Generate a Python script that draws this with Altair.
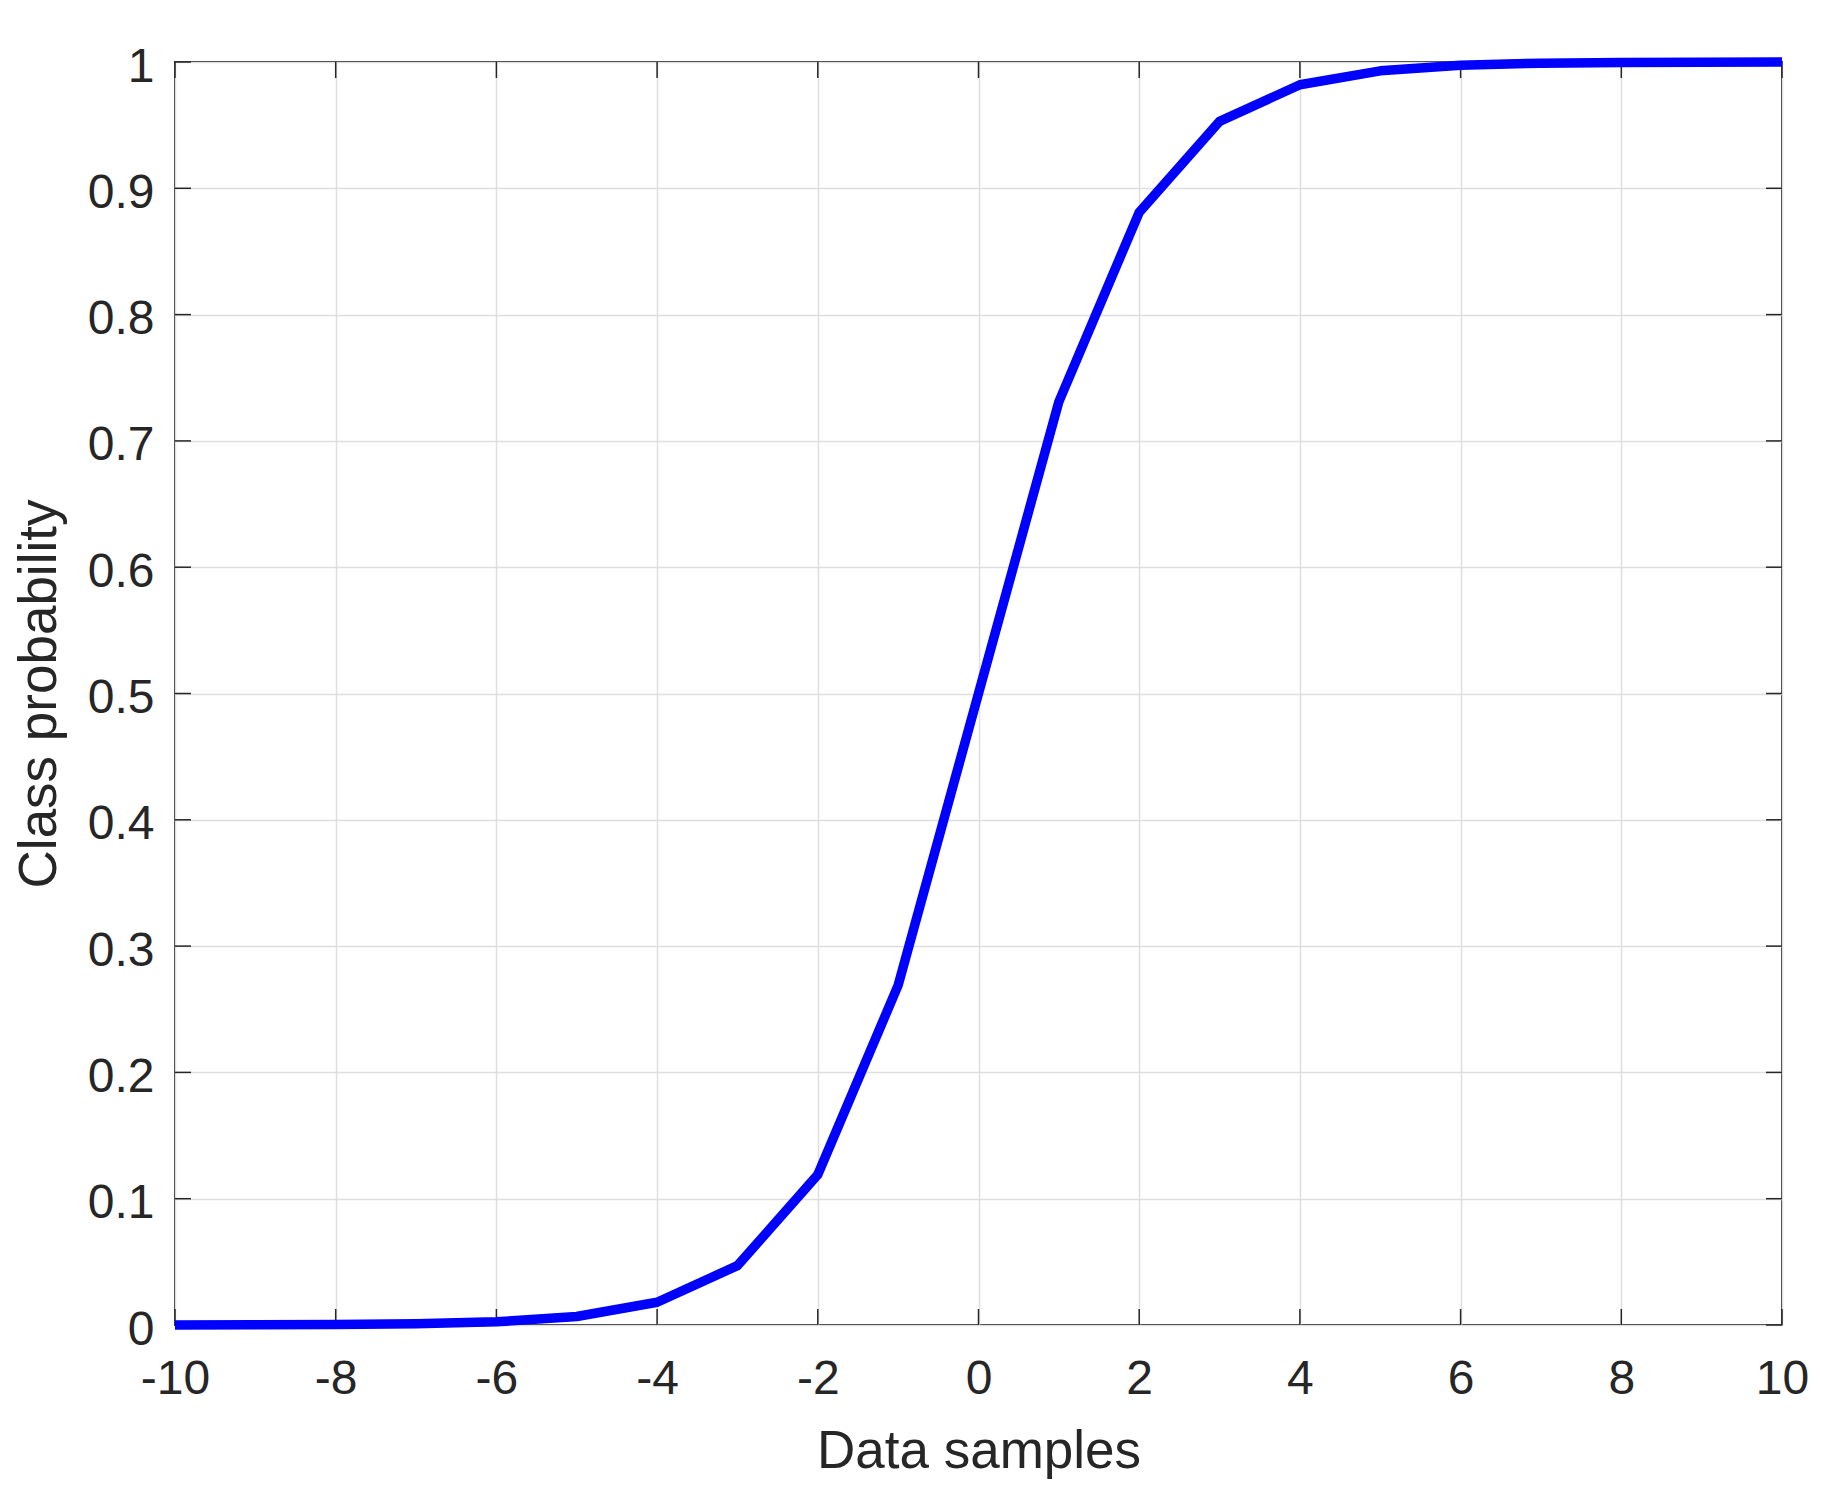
import altair as alt
import pandas as pd

samples = [-10, -9, -8, -7, -6, -5, -4, -3, -2, -1, 0, 1, 2, 3, 4, 5, 6, 7, 8, 9, 10]
probability = [0.00005, 0.00012, 0.00034, 0.0009, 0.0025, 0.0067, 0.018, 0.047,
               0.119, 0.269, 0.5, 0.731, 0.881, 0.953, 0.982, 0.993, 0.9975,
               0.9991, 0.9997, 0.9999, 0.99995]
x_ticks = [-10, -8, -6, -4, -2, 0, 2, 4, 6, 8, 10]
y_ticks = [0, 0.1, 0.2, 0.3, 0.4, 0.5, 0.6, 0.7, 0.8, 0.9, 1]

FONT = "Liberation Sans"
DARK = "#262626"
W, H = 1607, 1263

df = pd.DataFrame({"x": samples, "p": probability})
xt = pd.DataFrame({"xv": x_ticks, "ylo": [0] * len(x_ticks), "yhi": [1] * len(x_ticks)})
yt = pd.DataFrame({"yv": y_ticks, "xlo": [-10] * len(y_ticks), "xhi": [10] * len(y_ticks)})

xscale = alt.Scale(domain=[-10, 10], nice=False, zero=False)
yscale = alt.Scale(domain=[0, 1], nice=False, zero=False)

xaxis = alt.Axis(values=x_ticks, title="Data samples",
                 labelExpr="'' + datum.value",
                 labelFlush=False, labelPadding=30,
                 titleX=W / 2, titleY=142, titleBaseline="alphabetic",
                 titleAlign="center")
yaxis = alt.Axis(values=y_ticks, title="Class probability", format=".1~f",
                 labelFlush=False, labelPadding=21, labelOffset=5,
                 titleX=-120, titleY=H / 2, titleBaseline="alphabetic",
                 titleAlign="center", titleAngle=270)

line = alt.Chart(df).mark_line(color="#0000ff", strokeWidth=9.5, strokeJoin="round").encode(
    x=alt.X("x:Q", scale=xscale, axis=xaxis),
    y=alt.Y("p:Q", scale=yscale, axis=yaxis),
)

TL = 16
bottom_ticks = alt.Chart(xt).mark_tick(orient="vertical", size=TL, thickness=1.5,
                                       color=DARK, yOffset=-TL / 2, opacity=1).encode(
    x=alt.X("xv:Q", scale=xscale, axis=xaxis), y=alt.Y("ylo:Q", scale=yscale, axis=yaxis))
top_ticks = alt.Chart(xt).mark_tick(orient="vertical", size=TL, thickness=1.5,
                                    color=DARK, yOffset=TL / 2, opacity=1).encode(
    x=alt.X("xv:Q", scale=xscale, axis=xaxis), y=alt.Y("yhi:Q", scale=yscale, axis=yaxis))
left_ticks = alt.Chart(yt).mark_tick(orient="horizontal", size=TL, thickness=1.5,
                                     color=DARK, xOffset=TL / 2, opacity=1).encode(
    y=alt.Y("yv:Q", scale=yscale, axis=yaxis), x=alt.X("xlo:Q", scale=xscale, axis=xaxis))
right_ticks = alt.Chart(yt).mark_tick(orient="horizontal", size=TL, thickness=1.5,
                                      color=DARK, xOffset=-TL / 2, opacity=1).encode(
    y=alt.Y("yv:Q", scale=yscale, axis=yaxis), x=alt.X("xhi:Q", scale=xscale, axis=xaxis))

chart = alt.layer(bottom_ticks, top_ticks, left_ticks, right_ticks, line).properties(
    width=W, height=H,
    background="white",
    autosize=alt.AutoSizeParams(type="none"),
    padding={"left": 167, "top": 54, "right": 30, "bottom": 160},
).configure_view(
    stroke=DARK, strokeWidth=2
).configure_axis(
    domain=False, ticks=False,
    grid=True, gridColor="#dedede", gridWidth=1.5,
    labelFont=FONT, labelFontSize=48, labelColor=DARK,
    titleFont=FONT, titleFontSize=53, titleColor=DARK, titleFontWeight="normal",
)

chart.save("out.html", embed_options={"renderer": "svg", "actions": False})
